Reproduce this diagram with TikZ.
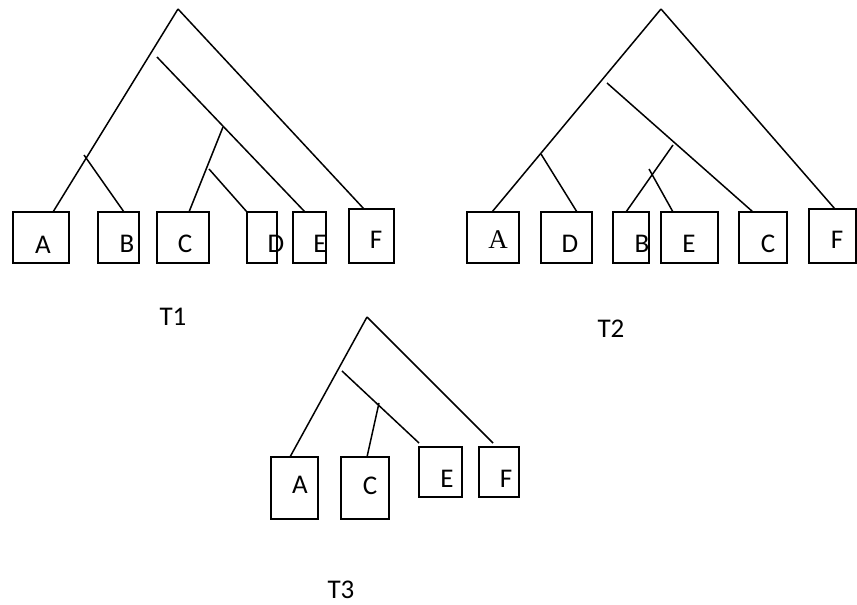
\documentclass[tikz,border=0pt]{standalone}
\usepackage{fontspec}
\setmainfont{Carlito}
\newfontfamily\serifA{Liberation Serif}
\usetikzlibrary{calc}

\begin{document}
\begin{tikzpicture}[x=1pt,y=-1pt,line width=1.5pt,
  leaf/.style={draw,rectangle,inner sep=0pt,outer sep=0pt,anchor=north west},
  lbl/.style={inner sep=0pt,anchor=base,font=\fontsize{27}{30}\selectfont},
  branch/.style={line cap=butt}]
\useasboundingbox (0,0) rectangle (857,605);

% ---------- tree T1 ----------
\node[leaf,minimum width=56,minimum height=51] (t1A) at (13,212) {};
\node[leaf,minimum width=41,minimum height=51] (t1B) at (98,212) {};
\node[leaf,minimum width=52,minimum height=51] (t1C) at (157,212) {};
\node[leaf,minimum width=30,minimum height=51] (t1D) at (247,212) {};
\node[leaf,minimum width=33,minimum height=51] (t1E) at (293,212) {};
\node[leaf,minimum width=45,minimum height=54] (t1F) at (349,209) {};
\node[lbl] (l1A) at (43,253) {A};
\node[lbl] (l1B) at (127,252) {B};
\node[lbl] (l1C) at (185,252) {C};
\node[lbl] (l1D) at (276,252) {D};
\node[lbl] (l1E) at (320,252) {E};
\node[lbl] (l1F) at (376,248) {F};
\coordinate (r1) at (178,9);
\coordinate (j1a) at (84,155);
\coordinate (j1b) at (157,57);
\coordinate (j1c) at (223,127);
\coordinate (j1d) at (209,169);
\draw[branch] (r1) -- ($(t1A.north west)+(40,0)$);
\draw[branch] (r1) -- ($(t1F.north west)+(15,0)$);
\draw[branch] (j1a) -- ($(t1B.north west)+(26,0)$);
\draw[branch] (j1b) -- ($(t1E.north west)+(12,0)$);
\draw[branch] (j1c) -- ($(t1C.north west)+(32,0)$);
\draw[branch] (j1d) -- (t1D.north west);
\node[lbl] (T1) at (173,325) {T1};

% ---------- tree T2 ----------
\node[leaf,minimum width=52,minimum height=51] (t2A) at (467,212) {};
\node[leaf,minimum width=51,minimum height=51] (t2D) at (541,212) {};
\node[leaf,minimum width=36,minimum height=51] (t2B) at (613,212) {};
\node[leaf,minimum width=57,minimum height=51] (t2E) at (661,212) {};
\node[leaf,minimum width=48,minimum height=51] (t2C) at (739,212) {};
\node[leaf,minimum width=47,minimum height=54] (t2F) at (809,209) {};
\node[lbl,font=\fontsize{27}{30}\serifA] (l2A) at (498,248) {A};
\node[lbl] (l2D) at (570,252) {D};
\node[lbl] (l2B) at (642,252) {B};
\node[lbl] (l2E) at (689,252) {E};
\node[lbl] (l2C) at (768,252) {C};
\node[lbl] (l2F) at (837,248) {F};
\coordinate (r2) at (661,9);
\coordinate (j2a) at (541,154);
\coordinate (j2b) at (607,83);
\coordinate (j2c) at (673,145);
\coordinate (j2d) at (649,169);
\draw[branch] (r2) -- ($(t2A.north west)+(25,0)$);
\draw[branch] (r2) -- ($(t2F.north west)+(26,0)$);
\draw[branch] (j2a) -- ($(t2D.north west)+(36,0)$);
\draw[branch] (j2b) -- ($(t2C.north west)+(14,0)$);
\draw[branch] (j2c) -- ($(t2B.north west)+(13,0)$);
\draw[branch] (j2d) -- ($(t2E.north west)+(12,0)$);
\node[lbl] (T2) at (611,337) {T2};

% ---------- tree T3 ----------
\node[leaf,minimum width=47,minimum height=62] (t3A) at (271,457) {};
\node[leaf,minimum width=48,minimum height=62] (t3C) at (341,457) {};
\node[leaf,minimum width=43,minimum height=50] (t3E) at (419,447) {};
\node[leaf,minimum width=40,minimum height=50] (t3F) at (479,447) {};
\node[lbl] (l3A) at (300,493) {A};
\node[lbl] (l3C) at (370,494) {C};
\node[lbl] (l3E) at (447,487) {E};
\node[lbl] (l3F) at (506,487) {F};
\coordinate (r3) at (367,317);
\coordinate (j3a) at (342,371);
\coordinate (j3b) at (379,403);
\draw[branch] (r3) -- ($(t3A.north west)+(19,0)$);
\draw[branch] (r3) -- ($(t3F.north west)+(14,-4)$);
\draw[branch] (j3a) -- ($(t3E.north west)+(0,-4)$);
\draw[branch] (j3b) -- ($(t3C.north west)+(26,0)$);
\node[lbl] (T3) at (341,598) {T3};
\end{tikzpicture}
\end{document}
